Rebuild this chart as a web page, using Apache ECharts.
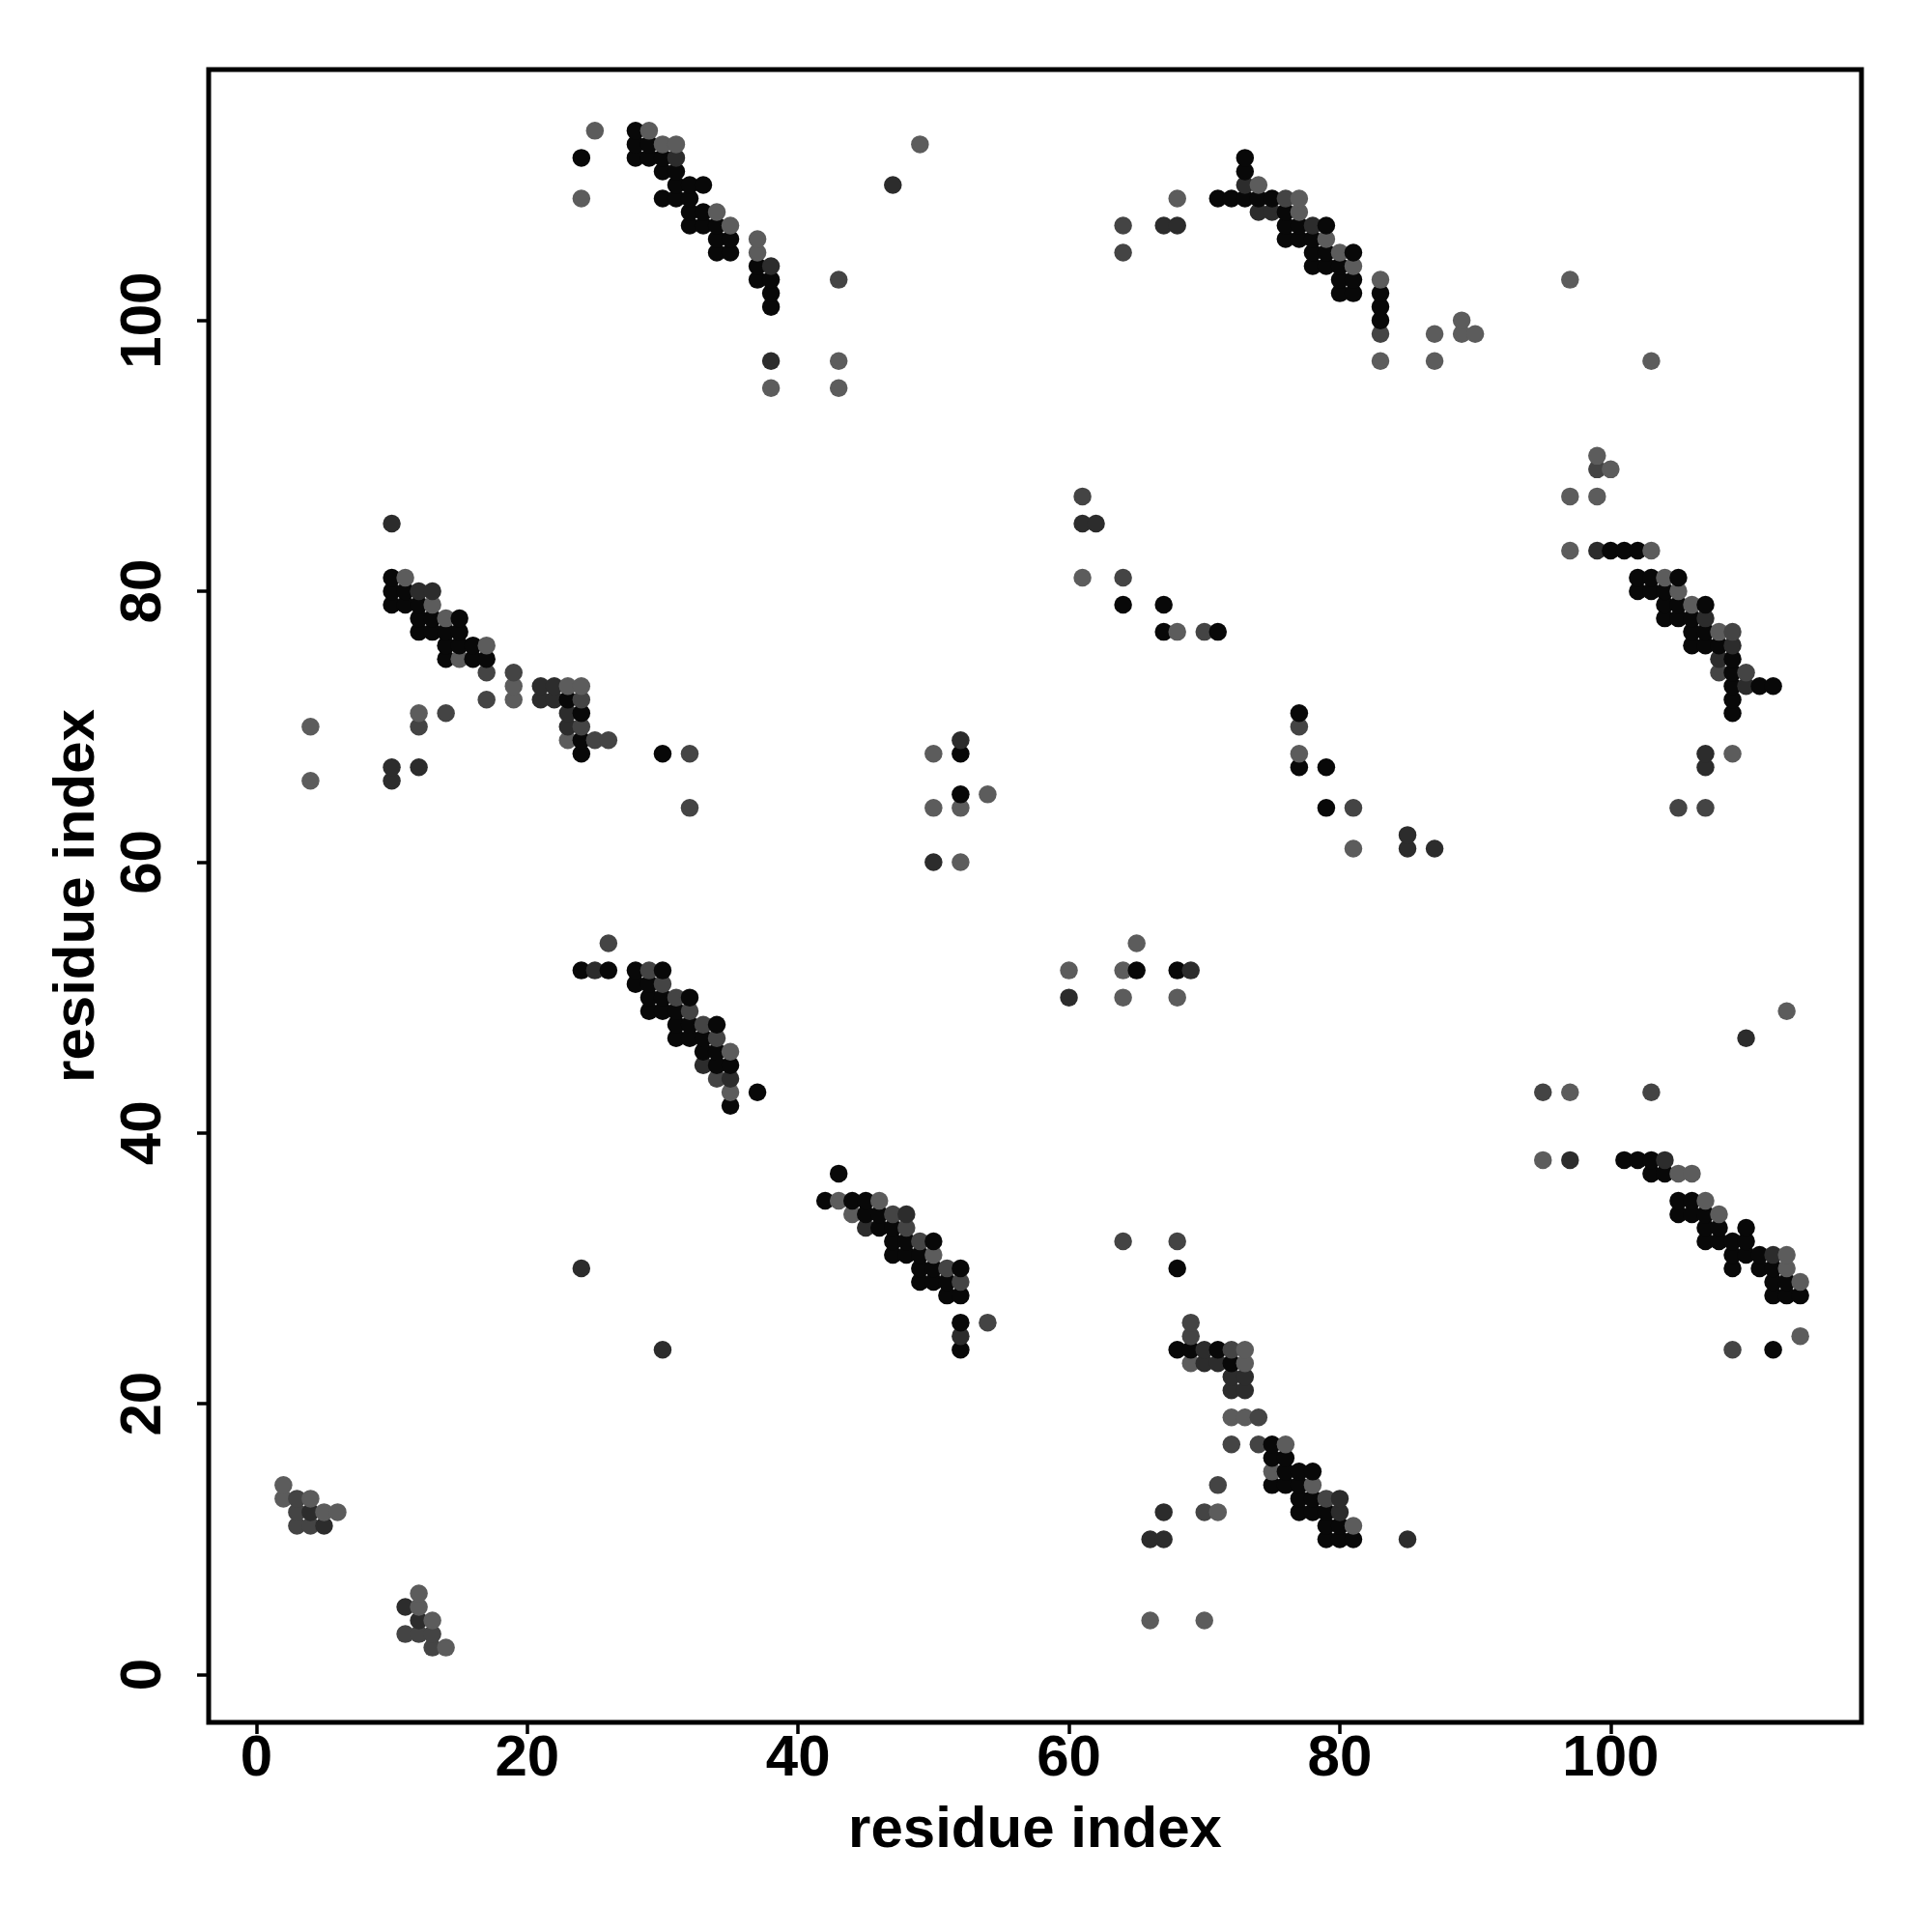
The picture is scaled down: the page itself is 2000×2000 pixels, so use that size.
<!DOCTYPE html>
<html>
<head>
<meta charset="utf-8">
<script src="https://cdn.jsdelivr.net/npm/echarts@6/dist/echarts.min.js"></script>
<style>html,body{margin:0;padding:0;background:#fff}#chart{width:2000px;height:2000px}</style>
</head>
<body>
<div id="chart"></div>
<script>
// tick labels
const tickValues = [0, 20, 40, 60, 80, 100];

// contacts (residue i, residue j), grouped by shade
const blackPts = [
[24,112],[28,114],[28,113],[29,113],[28,112],[29,112],[30,112],[30,111],[31,111],[31,110],[32,110],[33,110],[30,109],[31,109],[32,109],[32,108],[33,108],[32,107],[33,107],[34,107],[34,106],[35,106],[34,105],[35,105],[37,104],[37,103],[38,103],[38,102],[38,101],
[73,112],[73,111],[71,109],[72,109],[73,109],[74,109],[75,109],[76,108],[76,107],[77,107],[79,107],[76,106],[77,106],[78,106],[78,105],[79,105],[81,105],[78,104],[79,104],[80,104],[80,103],[81,103],[80,102],[81,102],[83,102],[83,101],[83,100],
[100,83],[101,83],[102,83],[102,81],[103,81],[105,81],[102,80],[103,80],[104,80],[104,79],[105,79],[107,79],[104,78],[105,78],[106,78],[106,77],[107,77],[106,76],[107,76],[108,76],[109,75],[109,74],[109,73],[111,73],[112,73],[109,72],[109,71],
[10,81],[10,80],[11,80],[10,79],[11,79],[12,79],[12,78],[13,78],[15,78],[12,77],[13,77],[14,77],[15,77],[14,76],[15,76],[16,76],[14,75],[16,75],[17,75],[23,72],[24,71],[24,69],[24,68],[30,68],
[64,79],[67,79],[67,77],[71,77],[77,71],[77,67],[79,67],[79,64],[52,68],[52,65],
[24,52],[26,52],[28,52],[30,52],[28,51],[29,51],[29,50],[30,50],[32,50],[29,49],[30,49],[31,49],[31,48],[32,48],[34,48],[31,47],[32,47],[33,47],[33,46],[34,46],[34,45],[35,45],[37,43],[35,42],
[43,37],[42,35],[44,35],[45,35],[45,34],[46,34],[46,33],[47,33],[47,32],[48,32],[50,32],[47,31],[48,31],[49,31],[49,30],[50,30],[52,30],[49,29],[50,29],[51,29],[51,28],[52,28],[52,26],[52,24],
[65,52],[68,52],
[68,30],[68,24],[69,24],[71,24],[72,23],[75,17],[75,16],[76,16],[76,15],[77,15],[78,15],[75,14],[76,14],[77,14],[77,13],[78,13],[77,12],[78,12],[79,12],[79,11],[80,11],[79,10],[80,10],[81,10],
[101,38],[102,38],[103,38],[103,37],[104,37],[105,35],[106,35],[105,34],[106,34],[107,34],[107,33],[108,33],[110,33],[107,32],[108,32],[109,32],[110,32],[109,31],[110,31],[111,31],[109,30],[111,30],[112,30],[112,29],[113,29],[112,28],[113,28],[114,28],[112,24]
];
const darkPts = [
[31,112],[38,104],[38,97],[47,110],
[73,110],[74,108],[75,108],[67,107],[68,107],[78,107],
[99,83],[107,78],[109,76],[108,75],[110,73],[107,68],[107,67],
[10,85],[12,80],[13,80],[21,73],[22,73],[21,72],[22,72],[23,71],[23,70],[10,67],[12,67],[10,66],
[61,85],[62,85],[52,69],[85,62],[85,61],[87,61],[50,60],
[25,52],[33,45],[35,44],[24,30],[30,24],[45,33],[48,34],[52,25],
[69,52],[60,50],
[70,24],[70,23],[71,23],[72,22],[73,22],[72,21],[73,21],[67,12],[66,10],[67,10],[85,10],[80,13],[80,12],
[104,38],[110,47],[97,38],[112,31],
[4,12],[5,11],[11,5],[12,4]
];
const midPts = [
[43,103],
[76,109],[64,107],[64,105],[83,99],
[99,89],[109,77],[108,74],[110,74],[105,64],[107,64],
[17,74],[19,74],[17,72],[24,72],[24,70],[12,70],[14,71],[25,69],[26,69],[32,68],[32,64],
[61,87],[64,81],[70,77],[81,64],[77,70],
[26,54],[29,52],[30,51],[31,50],[32,49],[33,48],[34,47],[34,44],[47,34],[48,33],[49,32],[51,30],[52,29],[54,26],
[64,32],[68,32],[69,26],[69,25],[72,24],[74,19],[72,17],[74,17],[71,14],[79,13],[70,12],
[95,43],[103,43],[109,24],
[3,13],[3,12],[3,11],[4,11],[11,3],[12,3],[13,3],[13,2]
];
const grayPts = [
[25,114],[24,109],[29,114],[30,113],[31,113],[34,108],[35,107],[37,106],[37,105],[43,97],[38,95],[43,95],[49,113],
[74,110],[77,109],[68,109],[77,108],[79,106],[80,105],[81,104],[83,103],[89,100],[87,99],[89,99],[90,99],[83,97],[87,97],
[97,103],[103,97],[99,90],[100,89],[97,87],[99,87],[97,83],[103,83],[104,81],[105,80],[106,79],[108,77],[109,68],
[11,81],[13,79],[14,78],[17,76],[15,75],[19,73],[23,73],[24,73],[19,72],[12,71],[4,70],[23,69],[4,66],
[61,81],[68,77],[77,68],[81,61],[50,68],[54,65],[50,64],[52,64],[52,60],
[35,46],[35,43],[43,35],[46,35],[44,34],[50,31],
[65,54],[60,52],[64,52],[64,50],[68,50],
[69,23],[73,24],[73,23],[72,19],[73,19],[76,17],[75,15],[78,14],[81,11],[66,4],[70,4],[71,12],
[113,49],[97,43],[95,38],[105,37],[106,37],[107,35],[108,34],[113,31],[113,30],[114,29],[114,25],
[2,14],[2,13],[4,13],[5,12],[6,12],[12,6],[12,5],[13,4],[14,2]
];

const groups = [
  [blackPts, '#080808'],
  [darkPts, '#2c2c2c'],
  [midPts, '#444444'],
  [grayPts, '#5c5c5c']
];
const points = [];
groups.forEach(([arr, color]) => arr.forEach(p => points.push({ value: p, itemStyle: { color, opacity: 1 } })));
points.sort((a, b) => a.value[0] - b.value[0] || a.value[1] - b.value[1]);

const font = 'Liberation Sans, Arial, Helvetica, sans-serif';
const chart = echarts.init(document.getElementById('chart'), null, { renderer: 'canvas' });
chart.setOption({
  animation: false,
  backgroundColor: '#fff',
  grid: { left: 216, top: 72, right: 73, bottom: 217, show: true, borderColor: '#000', borderWidth: 5, backgroundColor: 'transparent', z: 3 },
  xAxis: {
    type: 'value', min: -3.52, max: 118.52,
    name: 'residue index', nameLocation: 'middle', nameGap: 82,
    nameTextStyle: { fontSize: 60, fontWeight: 'bold', fontFamily: font, color: '#000' },
    axisLine: { show: false, onZero: false },
    axisTick: { show: true, customValues: tickValues, length: 12, lineStyle: { color: '#000', width: 3.5 } },
    axisLabel: { customValues: tickValues, fontSize: 60, fontWeight: 'bold', fontFamily: font, color: '#000', margin: 8 },
    splitLine: { show: false }
  },
  yAxis: {
    type: 'value', min: -3.52, max: 118.52,
    name: 'residue index', nameLocation: 'middle', nameGap: 106,
    nameTextStyle: { fontSize: 60, fontWeight: 'bold', fontFamily: font, color: '#000' },
    axisLine: { show: false, onZero: false },
    axisTick: { show: true, customValues: tickValues, length: 12, lineStyle: { color: '#000', width: 3.5 } },
    axisLabel: { customValues: tickValues, rotate: 90, fontSize: 60, fontWeight: 'bold', fontFamily: font, color: '#000', margin: 37 },
    splitLine: { show: false }
  },
  series: [{
    type: 'scatter',
    symbol: 'circle',
    symbolSize: 18.5,
    itemStyle: { opacity: 1 },
    emphasis: { disabled: true },
    data: points
  }]
});
</script>
</body>
</html>
